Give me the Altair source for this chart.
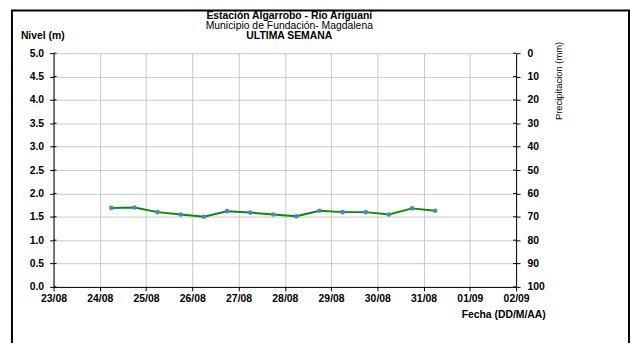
import altair as alt
import pandas as pd

# ---- data ----
fechas = [
    "2019-08-24T06:00:00", "2019-08-24T18:00:00",
    "2019-08-25T06:00:00", "2019-08-25T18:00:00",
    "2019-08-26T06:00:00", "2019-08-26T18:00:00",
    "2019-08-27T06:00:00", "2019-08-27T18:00:00",
    "2019-08-28T06:00:00", "2019-08-28T18:00:00",
    "2019-08-29T06:00:00", "2019-08-29T18:00:00",
    "2019-08-30T06:00:00", "2019-08-30T18:00:00",
    "2019-08-31T06:00:00",
]
nivel = [1.69, 1.70, 1.60, 1.55, 1.50, 1.62, 1.59, 1.55, 1.51, 1.63,
         1.60, 1.60, 1.55, 1.68, 1.63]

tick_dias = [(8, 23), (8, 24), (8, 25), (8, 26), (8, 27), (8, 28),
             (8, 29), (8, 30), (8, 31), (9, 1), (9, 2)]
nivel_ticks = [0.0, 0.5, 1.0, 1.5, 2.0, 2.5, 3.0, 3.5, 4.0, 4.5, 5.0]
precip_ticks = [0, 10, 20, 30, 40, 50, 60, 70, 80, 90, 100]

titulo1 = "Estación Algarrobo - Río Ariguaní"
titulo2 = "Municipio de Fundación- Magdalena"
titulo3 = "ULTIMA SEMANA"
eje_izq = "Nivel (m)"
eje_der = "Precipitacion (mm)"
eje_x = "Fecha (DD/M/AA)"

FONT = "Liberation Sans"
W, H = 467, 236

df = pd.DataFrame({"fecha": fechas, "nivel": nivel})
tick_vals = [alt.DateTime(year=2019, month=m, date=d) for m, d in tick_dias]

x_enc = alt.X(
    "fecha:T",
    scale=alt.Scale(domain=[tick_vals[0], tick_vals[-1]]),
    axis=alt.Axis(values=tick_vals, format="%d/%m", title=None,
                  labelPadding=3, labelFlush=False, labelOverlap=False),
)
y_enc = alt.Y(
    "nivel:Q",
    scale=alt.Scale(domain=[0, 5]),
    axis=alt.Axis(values=nivel_ticks, format=".1f", title=None,
                  labelPadding=6),
)

base = alt.Chart(df)
line = base.mark_line(color="#0a8a0a", strokeWidth=2).encode(x=x_enc, y=y_enc)
pts = base.mark_circle(color="#3f8fbf", size=22, opacity=1).encode(x=x_enc, y=y_enc)
# inner half of the crossing ticks on the left axis
ltick = alt.Chart(pd.DataFrame({"nivel": nivel_ticks})).mark_rule(
    color="black", strokeWidth=1
).encode(y=y_enc, x=alt.value(0), x2=alt.value(3))
main = alt.layer(line, pts, ltick)

py_enc = alt.Y("precip:Q",
               scale=alt.Scale(domain=[0, 100], reverse=True),
               axis=alt.Axis(orient="right", values=precip_ticks, grid=False,
                             title=None, labelPadding=7))
pdf = pd.DataFrame({"precip": precip_ticks})
precip_pts = alt.Chart(pdf).mark_point(opacity=0).encode(y=py_enc)
rtick = alt.Chart(pdf).mark_rule(color="black", strokeWidth=1).encode(
    y=py_enc, x=alt.value(W - 3), x2=alt.value(W)
)
precip = alt.layer(precip_pts, rtick)

one = pd.DataFrame({"a": [0]})


def label(text, x, y, size=10, weight="bold", align="center", angle=0,
          baseline="alphabetic"):
    return alt.Chart(one).mark_text(
        text=text, font=FONT, fontSize=size, fontWeight=weight, align=align,
        baseline=baseline, angle=angle, color="black"
    ).encode(x=alt.value(x), y=alt.value(y))


t1 = label(titulo1, 238, -34.5, size=10.5)
t2 = label(titulo2, 238, -24.5, size=10.5, weight="normal")
t3 = label(titulo3, 238, -14.5, size=10.5)
tl = label(eje_izq, -33, -14.5, size=10.5, align="left")
tr = label(eje_der, 510, 28, size=9.5, weight="normal", angle=270,
           baseline="middle")
tx = label(eje_x, 497, 267, size=10.5, align="right")

frame = alt.Chart(one).mark_rect(
    fillOpacity=0, stroke="black", strokeWidth=2
).encode(x=alt.value(-42), x2=alt.value(581), y=alt.value(-43), y2=alt.value(400))

chart = alt.layer(main, precip, frame, t1, t2, t3, tl, tr, tx).resolve_scale(
    y="independent"
).properties(
    width=W, height=H,
    autosize=alt.AutoSizeParams(type="none"),
    padding={"left": 46, "top": 44, "right": 115, "bottom": 55},
).configure_view(stroke=None).configure_axis(
    labelFont=FONT, labelFontWeight="bold", labelFontSize=10.5,
    labelColor="black", domainColor="black", tickColor="black",
    tickSize=4, gridColor="#c8c8c8", gridWidth=1,
)

chart.save("out.html", embed_options={"renderer": "svg", "actions": False})
